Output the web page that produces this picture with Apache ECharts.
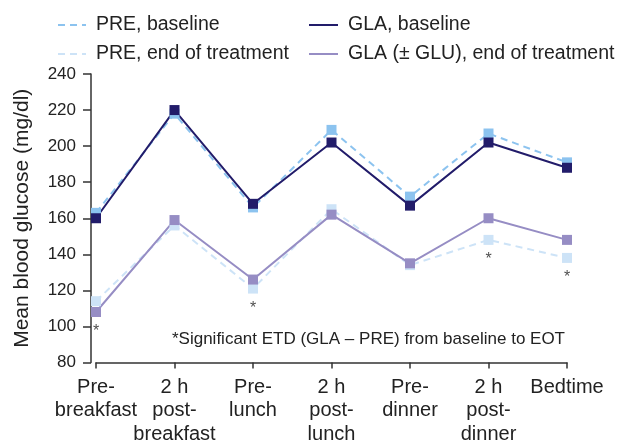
<!DOCTYPE html>
<html><head><meta charset="utf-8">
<script src="https://cdn.jsdelivr.net/npm/echarts@6/dist/echarts.min.js"></script>
<style>html,body{margin:0;padding:0;background:#fff}#c{width:620px;height:446px}</style>
</head><body><div id="c"></div>
<script>
const categories = ['Pre-\nbreakfast', '2 h\npost-\nbreakfast', 'Pre-\nlunch', '2 h\npost-\nlunch', 'Pre-\ndinner', '2 h\npost-\ndinner', 'Bedtime'];
const preBaseline = [163, 218, 166, 209, 172, 207, 191];
const glaBaseline = [160, 220, 168, 202, 167, 202, 188];
const preEOT = [114, 156, 121, 165, 134, 148, 138];
const glaEOT = [108, 159, 126, 162, 135, 160, 148];
const significant = [true, false, true, false, false, true, true];
const yTicks = [80, 100, 120, 140, 160, 180, 200, 220, 240];
const footnote = '*Significant ETD (GLA \u2013 PRE) from baseline to EOT';

const C_PRE_B = '#8cc3ef', C_GLA_B = '#221c6a', C_PRE_E = '#cde3f7', C_GLA_E = '#968dc4';
const font = 'Liberation Sans, Arial, sans-serif';

const starData = categories.map((c, i) => significant[i] ? Math.min(preEOT[i], glaEOT[i]) : null);

function lineSeries(name, data, color, dashed) {
  return {
    name, type: 'line', data,
    symbol: 'rect', symbolSize: 10,
    itemStyle: { color },
    lineStyle: { color, width: 2, type: dashed ? [7, 5] : 'solid' },
    emphasis: { disabled: true }, animation: false
  };
}
const legendText = { fontFamily: font, fontSize: 19.5, color: '#222', lineHeight: 20, padding: [0, 0, 0, 5] };

const chart = echarts.init(document.getElementById('c'));
chart.setOption({
  animation: false,
  grid: { left: 96, right: 53, top: 74, bottom: 80 },
  legend: [
    { data: ['PRE, baseline', 'PRE, end of treatment'], orient: 'vertical', left: 52, top: 10, itemGap: 9,
      itemWidth: 28, itemHeight: 14, itemStyle: { opacity: 0 }, textStyle: legendText },
    { data: ['GLA, baseline', 'GLA (\u00b1 GLU), end of treatment'], orient: 'vertical', left: 303, top: 10, itemGap: 9,
      itemWidth: 29, itemHeight: 14, itemStyle: { opacity: 0 }, textStyle: legendText }
  ],
  xAxis: {
    type: 'category', data: categories, boundaryGap: false,
    axisLine: { lineStyle: { color: '#333', width: 1.5 } },
    axisTick: { show: true, length: 6, alignWithLabel: true, lineStyle: { color: '#333', width: 1.5 } },
    axisLabel: { fontFamily: font, fontSize: 20, color: '#222', lineHeight: 23.5, margin: 13, interval: 0 }
  },
  yAxis: {
    type: 'value', min: yTicks[0], max: yTicks[yTicks.length - 1], interval: 20, offset: 5,
    name: 'Mean blood glucose (mg/dl)', nameLocation: 'middle', nameGap: 58, nameRotate: 90,
    nameTextStyle: { fontFamily: font, fontSize: 21, color: '#222' },
    splitLine: { show: false },
    axisLine: { show: true, lineStyle: { color: '#333', width: 1.5 } },
    axisTick: { show: true, length: 8, lineStyle: { color: '#333', width: 1.5 } },
    axisLabel: { fontFamily: font, fontSize: 17, color: '#222', margin: 15 }
  },
  series: [
    lineSeries('PRE, baseline', preBaseline, C_PRE_B, true),
    lineSeries('GLA, baseline', glaBaseline, C_GLA_B, false),
    lineSeries('PRE, end of treatment', preEOT, C_PRE_E, true),
    lineSeries('GLA (\u00b1 GLU), end of treatment', glaEOT, C_GLA_E, false),
    {
      name: 'sig', type: 'scatter', data: starData, symbolSize: 0, silent: true,
      label: { show: true, position: 'bottom', distance: 12, formatter: '*', fontFamily: font, fontSize: 16, color: '#222' }
    }
  ],
  graphic: [
    { type: 'text', right: 55, top: 331,
      style: { text: footnote, fontFamily: font, fontSize: 17, fill: '#222' } }
  ]
});
</script></body></html>
